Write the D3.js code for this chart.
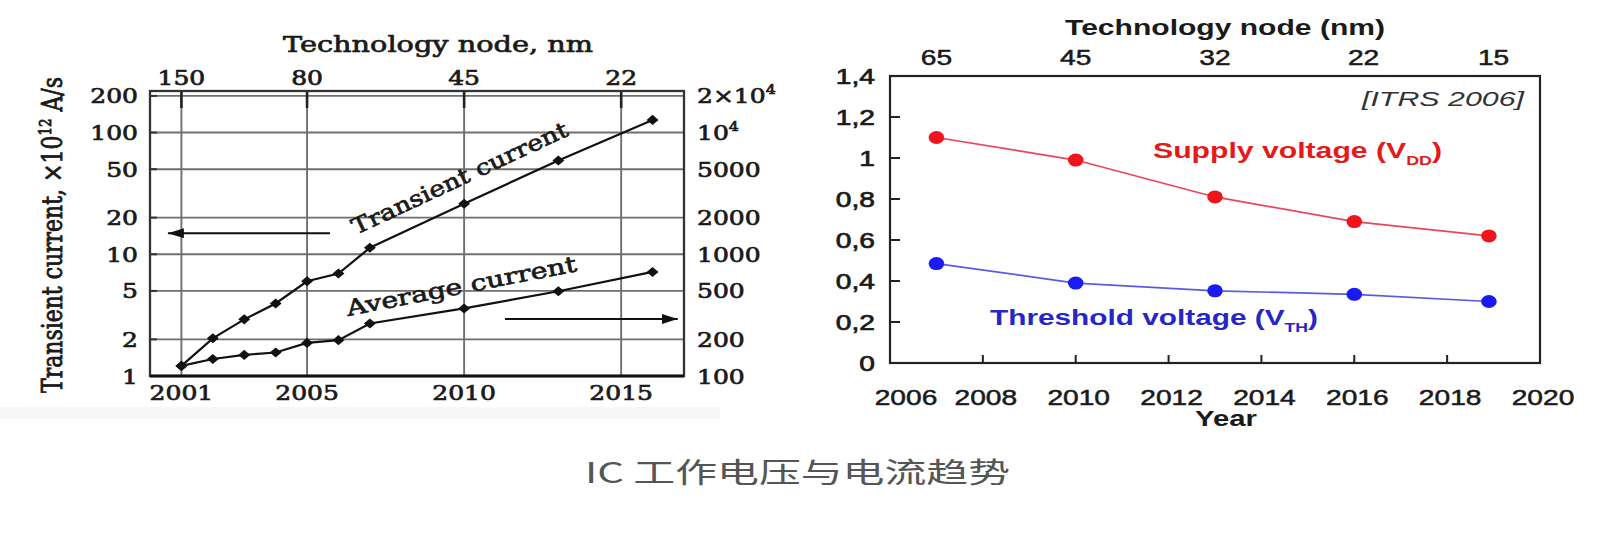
<!DOCTYPE html>
<html><head><meta charset="utf-8">
<script src="https://cdn.jsdelivr.net/npm/d3@7"></script>
<style>body{margin:0;background:#fff}svg{display:block}</style>
</head><body><svg id="c" width="1600" height="534"></svg>
<script>
// ---------- data: left panel (current trends) ----------
const curYears = [2001, 2002, 2003, 2004, 2005, 2006, 2007, 2010, 2013, 2016];
const transientCurrent = [1.21, 2.04, 2.92, 3.94, 6.0, 6.95, 11.3, 26, 59, 127]; // ×10^12 A/s, left axis
const averageCurrent = [121, 138, 149, 156, 187, 197, 270, 359, 497, 716];        // right axis
const leftYTicks = [1, 2, 5, 10, 20, 50, 100, 200];
const rightYTicks = [100, 200, 500, 1000, 2000, 5000, 10000, 20000];
const rightYLabels = ["100", "200", "500", "1000", "2000", "5000", "10^4", "2×10^4"];
const curXTicks = [2001, 2005, 2010, 2015];
const curNodeYears = [2001, 2005, 2010, 2015];
const curNodeLabels = ["150", "80", "45", "22"];

// ---------- data: right panel (voltage trends, ITRS 2006) ----------
const vYears = [2007, 2010, 2013, 2016, 2018.9];
const supplyVoltage = [1.10, 0.99, 0.81, 0.69, 0.62];
const thresholdVoltage = [0.485, 0.39, 0.352, 0.335, 0.30];
const vYTicks = [0, 0.2, 0.4, 0.6, 0.8, 1, 1.2, 1.4];
const vYLabels = ["0", "0,2", "0,4", "0,6", "0,8", "1", "1,2", "1,4"];
const vXTicks = [2006, 2008, 2010, 2012, 2014, 2016, 2018, 2020];
const vNodeYears = [2007, 2010, 2013, 2016.2, 2019];
const vNodeLabels = ["65", "45", "32", "22", "15"];

const caption = "IC 工作电压与电流趋势";

// ---------- layout ----------
const svg = d3.select("#c");
const SERIF = "'DejaVu Serif', serif";
const SANS = "'Liberation Sans', Arial, sans-serif";

function label(g, o) {
  let tr = `translate(${o.x},${o.y})`;
  if (o.sx) tr += ` scale(${o.sx},1)`;
  if (o.rot) tr += ` rotate(${o.rot})`;
  const t = g.append("text")
    .attr("transform", tr)
    .attr("text-anchor", o.anchor || "start")
    .attr("font-family", o.family)
    .attr("font-size", o.size)
    .attr("font-weight", o.weight || "normal")
    .attr("font-style", o.style || "normal")
    .attr("fill", o.fill || "#111");
  if (o.stroke) t.attr("stroke", o.fill || "#111").attr("stroke-width", o.stroke);
  if (Array.isArray(o.text)) {
    o.text.forEach(p => {
      const s = t.append("tspan").text(p.t);
      if (p.size) s.attr("font-size", p.size);
      if (p.dy) s.attr("dy", p.dy);
    });
  } else t.text(o.text);
  if (o.width) t.attr("textLength", o.width).attr("lengthAdjust", "spacingAndGlyphs");
  return t;
}
function supText(s, supSize, shift) {
  const i = s.indexOf("^");
  if (i < 0) return s;
  return [{t: s.slice(0, i)}, {t: s.slice(i + 1), size: supSize, dy: -shift}];
}

// faint band under left panel
svg.append("rect").attr("x", 0).attr("y", 407).attr("width", 720).attr("height", 12).attr("fill", "#f7f7f7");

// ================= LEFT PANEL =================
const L = svg.append("g");
const xL = d3.scaleLinear().domain([2000, 2017]).range([150, 684]);
const yL = d3.scaleLog().domain([1, 200]).range([376, 95.9]);
const yR = d3.scaleLog().domain([100, 20000]).range([376, 95.9]);
const topL = 91;

// grid
L.selectAll(".hg").data(leftYTicks.slice(1)).join("line")
  .attr("x1", xL(2000)).attr("x2", xL(2017)).attr("y1", d => yL(d)).attr("y2", d => yL(d))
  .attr("stroke", "#6f6f6f").attr("stroke-width", 1.9);
L.selectAll(".vg").data(curXTicks).join("line")
  .attr("x1", d => xL(d)).attr("x2", d => xL(d)).attr("y1", topL).attr("y2", yL(1))
  .attr("stroke", "#6f6f6f").attr("stroke-width", 1.9);
// left ticks
L.selectAll(".lt").data(leftYTicks.slice(1)).join("line")
  .attr("x1", xL(2000)).attr("x2", xL(2000) + 7).attr("y1", d => yL(d)).attr("y2", d => yL(d))
  .attr("stroke", "#333").attr("stroke-width", 2);
// top ticks
L.selectAll(".tt").data(curNodeYears).join("line")
  .attr("x1", d => xL(d)).attr("x2", d => xL(d)).attr("y1", topL).attr("y2", topL + 17)
  .attr("stroke", "#222").attr("stroke-width", 2.6);
// frame
L.append("rect").attr("x", xL(2000)).attr("y", topL).attr("width", xL(2017) - xL(2000)).attr("height", yL(1) - topL)
  .attr("fill", "none").attr("stroke", "#333").attr("stroke-width", 2.3);
L.append("line").attr("x1", xL(2000)).attr("x2", xL(2017)).attr("y1", yL(1)).attr("y2", yL(1))
  .attr("stroke", "#111").attr("stroke-width", 3);

// arrows
const defs = svg.append("defs");
defs.append("marker").attr("id", "ah").attr("markerUnits", "userSpaceOnUse")
  .attr("markerWidth", 20).attr("markerHeight", 12).attr("refX", 16).attr("refY", 5)
  .attr("orient", "auto")
  .append("path").attr("d", "M0,0 L16,5 L0,10 Z").attr("fill", "#111");
L.append("line").attr("x1", xL(2005.73)).attr("x2", xL(2000.57)).attr("y1", yL(14.9)).attr("y2", yL(14.9))
  .attr("stroke", "#111").attr("stroke-width", 2).attr("marker-end", "url(#ah)");
L.append("line").attr("x1", xL(2011.3)).attr("x2", xL(2016.8)).attr("y1", yL(2.94)).attr("y2", yL(2.94))
  .attr("stroke", "#111").attr("stroke-width", 2).attr("marker-end", "url(#ah)");

// series
const lineT = d3.line().x((d, i) => xL(curYears[i])).y(d => yL(d));
const lineA = d3.line().x((d, i) => xL(curYears[i])).y(d => yR(d));
L.append("path").attr("d", lineT(transientCurrent)).attr("fill", "none").attr("stroke", "#111").attr("stroke-width", 2.2);
L.append("path").attr("d", lineA(averageCurrent)).attr("fill", "none").attr("stroke", "#111").attr("stroke-width", 2.2);
const diamond = d3.symbol().type(d3.symbolDiamond2).size(72);
L.selectAll(".mt").data(transientCurrent).join("path")
  .attr("d", diamond).attr("fill", "#111")
  .attr("transform", (d, i) => `translate(${xL(curYears[i])},${yL(d)}) scale(1.12,0.95)`);
L.selectAll(".ma").data(averageCurrent).join("path")
  .attr("d", diamond).attr("fill", "#111")
  .attr("transform", (d, i) => `translate(${xL(curYears[i])},${yR(d)}) scale(1.12,0.95)`);

// texts
const tsz = 20.5, tsx = 1.22, tcol = "#1a1a1a", tstr = 0.7;
label(L, {x: 283, y: 51.7, text: "Technology node, nm", family: SERIF, size: 23, width: 310, fill: tcol, stroke: tstr});
curNodeLabels.forEach((s, i) => label(L, {x: xL(curNodeYears[i]), y: 85, text: s, anchor: "middle", family: SERIF, size: tsz, sx: tsx, fill: tcol, stroke: tstr}));
curXTicks.forEach(v => label(L, {x: xL(v), y: 400, text: String(v), anchor: "middle", family: SERIF, size: tsz, sx: tsx, fill: tcol, stroke: tstr}));
leftYTicks.forEach(v => label(L, {x: 138, y: yL(v) + 7.5, text: String(v), anchor: "end", family: SERIF, size: tsz, sx: tsx, fill: tcol, stroke: tstr}));
rightYTicks.forEach((v, i) => label(L, {x: 697, y: yR(v) + 7.5, text: supText(rightYLabels[i], 13, 9), anchor: "start", family: SERIF, size: tsz, sx: tsx, fill: tcol, stroke: tstr}));
label(L, {x: 62, y: 235, sx: 1.25, rot: -90, anchor: "middle", family: SERIF, size: 23, width: 316, fill: tcol, stroke: tstr,
  text: [{t: "Transient current, ×10"}, {t: "12", size: 14, dy: -9}, {t: " A/s", dy: 9}]});
label(L, {x: 356, y: 235, rot: -25.1, text: "Transient current", family: SERIF, size: 22, width: 236, fill: tcol, stroke: tstr});
label(L, {x: 348, y: 316, rot: -11.1, text: "Average current", family: SERIF, size: 22, width: 234, fill: tcol, stroke: tstr});

// ================= RIGHT PANEL =================
const R = svg.append("g");
const xV = d3.scaleLinear().domain([2006, 2020]).range([890, 1540]);
const yV = d3.scaleLinear().domain([0, 1.4]).range([363, 76]);

R.append("rect").attr("x", xV(2006)).attr("y", yV(1.4)).attr("width", xV(2020) - xV(2006)).attr("height", yV(0) - yV(1.4))
  .attr("fill", "none").attr("stroke", "#222").attr("stroke-width", 2.2);
R.selectAll(".yt").data(vYTicks.slice(1, -1)).join("line")
  .attr("x1", xV(2006)).attr("x2", xV(2006) + 10).attr("y1", d => yV(d)).attr("y2", d => yV(d))
  .attr("stroke", "#222").attr("stroke-width", 2);
R.selectAll(".xt").data(vXTicks.slice(1, -1)).join("line")
  .attr("x1", d => xV(d)).attr("x2", d => xV(d)).attr("y1", yV(0)).attr("y2", yV(0) - 8)
  .attr("stroke", "#222").attr("stroke-width", 2);

const lineV = d3.line().x((d, i) => xV(vYears[i])).y(d => yV(d));
R.append("path").attr("d", lineV(supplyVoltage)).attr("fill", "none").attr("stroke", "#e8465a").attr("stroke-width", 1.7);
R.append("path").attr("d", lineV(thresholdVoltage)).attr("fill", "none").attr("stroke", "#5a5ae6").attr("stroke-width", 1.7);
R.selectAll(".dr").data(supplyVoltage).join("ellipse")
  .attr("cx", (d, i) => xV(vYears[i])).attr("cy", d => yV(d)).attr("rx", 7.8).attr("ry", 6.5).attr("fill", "#f0141c");
R.selectAll(".db").data(thresholdVoltage).join("ellipse")
  .attr("cx", (d, i) => xV(vYears[i])).attr("cy", d => yV(d)).attr("rx", 7.8).attr("ry", 6.5).attr("fill", "#1a1af5");

const ssz = 22, ssx = 1.28, scol = "#1a1a1a";
label(R, {x: 1065, y: 35, text: "Technology node (nm)", family: SANS, size: 22, weight: "bold", width: 320, fill: scol});
vNodeLabels.forEach((s, i) => label(R, {x: xV(vNodeYears[i]), y: 65, text: s, anchor: "middle", family: SANS, size: ssz, sx: ssx, fill: scol, stroke: 0.5}));
vYTicks.forEach((v, i) => label(R, {x: 875, y: yV(v) + 8, text: vYLabels[i], anchor: "end", family: SANS, size: ssz, sx: ssx, fill: scol, stroke: 0.7}));
vXTicks.forEach((v, i) => label(R, {x: xV(v) + (i === 0 ? 16 : 3), y: 405, text: String(v), anchor: "middle", family: SANS, size: ssz, sx: ssx, fill: scol, stroke: 0.5}));
label(R, {x: 1195, y: 426, text: "Year", family: SANS, size: 22, weight: "bold", width: 62, fill: scol});
label(R, {x: 1362, y: 106, text: "[ITRS 2006]", family: SANS, size: 21, style: "italic", width: 162, fill: "#333"});
label(R, {x: 1153, y: 158, family: SANS, size: 22, weight: "bold", width: 289, fill: "#e41a1a",
  text: [{t: "Supply voltage (V"}, {t: "DD", size: 13, dy: 7}, {t: ")", dy: -7}]});
label(R, {x: 990, y: 325, family: SANS, size: 22, weight: "bold", width: 328, fill: "#2626c8",
  text: [{t: "Threshold voltage (V"}, {t: "TH", size: 13, dy: 7}, {t: ")", dy: -7}]});

// ================= CAPTION =================
label(svg, {x: 585, y: 483, text: caption, family: "'Noto Sans CJK SC', sans-serif", size: 28, width: 425, fill: "#555"});
</script>
</body></html>
